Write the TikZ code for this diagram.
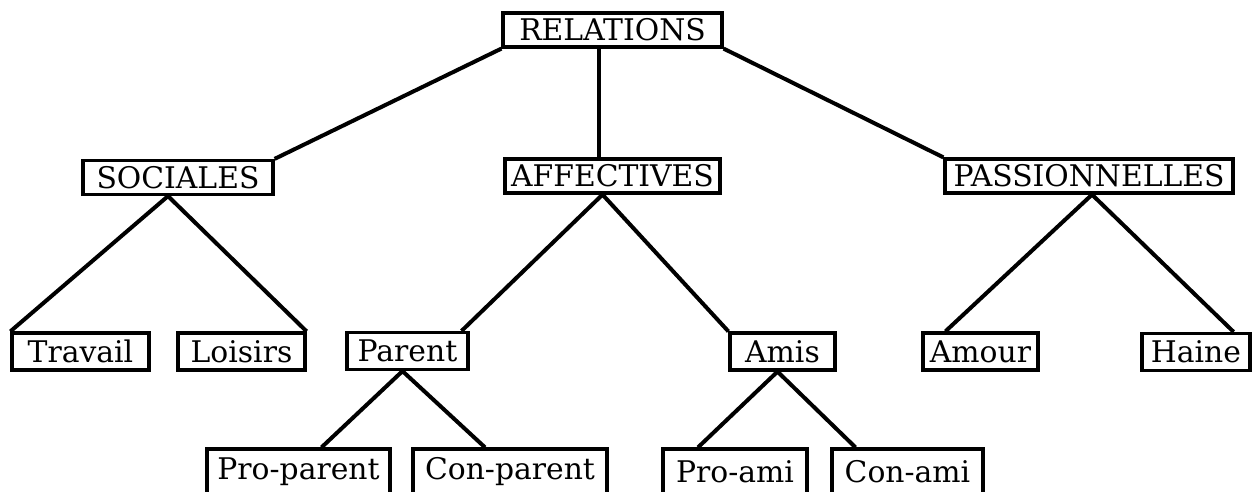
\documentclass[tikz,border=0pt]{standalone}
\usepackage{fontspec}
\setmainfont{DejaVu Serif}
\usepackage{tikz}
\usetikzlibrary{calc}

\begin{document}
\begin{tikzpicture}[
  x=0.5pt,y=-0.5pt,
  box/.style={draw,line width=1.6pt,inner sep=0pt,align=center,font=\fontsize{14.9}{16}\selectfont},
  rootbox/.style={box,minimum height=17pt},
  catbox/.style={box,minimum height=17pt},
  subbox/.style={box,minimum height=18.5pt},
  leafbox/.style={box,minimum height=23pt},
  link/.style={draw,line width=2pt}
]
\useasboundingbox (0,0) rectangle (1257,492);
% top of the tree
\node[rootbox,minimum width=109.5pt] (rel) at (612.5,30) {RELATIONS};
\node[catbox,minimum width=95pt] (soc) at (178,177.5) {SOCIALES};
\node[catbox,minimum width=107.5pt] (aff) at (612.5,176) {AFFECTIVES};
\node[catbox,minimum width=144pt] (pas) at (1089,176) {PASSIONNELLES};
% second row
\node[subbox,minimum width=68.5pt] (trav) at (80.5,351.5) {Travail};
\node[subbox,minimum width=63.5pt] (lois) at (241.5,351.5) {Loisirs};
\node[subbox,minimum width=60.5pt] (par) at (407.5,351) {Parent};
\node[subbox,minimum width=52.5pt] (amis) at (782.5,351.5) {Amis};
\node[subbox,minimum width=57.5pt] (amour) at (980.5,351.5) {Amour};
\node[subbox,minimum width=54pt] (haine) at (1196,352) {Haine};
% bottom row
\node[leafbox,minimum width=91.5pt] (ppar) at (298.5,472) {Pro-parent};
\node[leafbox,minimum width=97pt] (cpar) at (510,472) {Con-parent};
\node[leafbox,minimum width=72pt] (pami) at (735,472) {Pro-ami};
\node[leafbox,minimum width=75.5pt] (cami) at (907.5,472) {Con-ami};

\draw[link] (rel.south west) -- (soc.north east);
\draw[link] ($(rel.south)+(-14,0)$) -- ($(aff.north)+(-14,0)$);
\draw[link] (rel.south east) -- (pas.north west);

\draw[link] (trav.north west) -- ($(soc.south)+(-10,0)$) -- (lois.north east);
\draw[link] ($(par.north east)+(-8,0)$) -- ($(aff.south)+(-10,0)$) -- (amis.north west);
\draw[link] ($(amour.north west)+(24,0)$) -- ($(pas.south)+(3,0)$) -- ($(haine.north east)+(-18,0)$);

\draw[link] ($(ppar.north)+(23,0)$) -- ($(par.south)+(-5,0)$) -- ($(cpar.north)+(-25,0)$);
\draw[link] ($(pami.north)+(-37,0)$) -- ($(amis.south)+(-5,0)$) -- ($(cami.north)+(-52,0)$);
\end{tikzpicture}
\end{document}
